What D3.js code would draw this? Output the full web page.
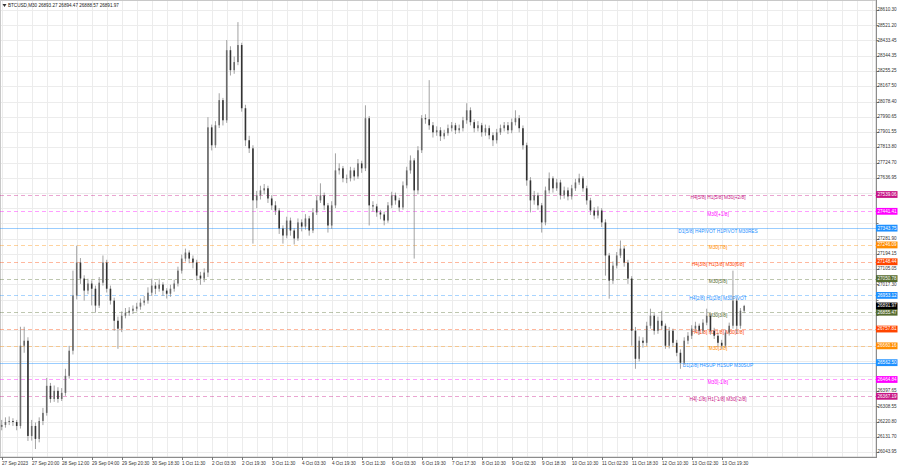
<!DOCTYPE html>
<html><head><meta charset="utf-8">
<script src="https://cdn.jsdelivr.net/npm/d3@7"></script>
<style>body{margin:0;background:#fff}svg{display:block;font-family:"Liberation Sans",Arial,sans-serif}</style>
</head><body><svg id="c" width="900" height="468"></svg>
<script>
// ---- data ----
const title = "BTCUSD,M30  26893.27 26894.47 26888.57 26891.97";
const timeLabels = ["27 Sep 2023","27 Sep 20:00","28 Sep 12:00","29 Sep 04:00","29 Sep 20:30","30 Sep 18:30","1 Oct 11:30","2 Oct 03:30","2 Oct 19:30","3 Oct 11:30","4 Oct 03:30","4 Oct 19:30","5 Oct 11:30","6 Oct 03:30","6 Oct 19:30","7 Oct 17:30","8 Oct 10:30","9 Oct 02:30","9 Oct 18:30","10 Oct 10:30","11 Oct 02:30","11 Oct 18:30","12 Oct 10:30","13 Oct 02:30","13 Oct 19:30"];
const priceTicks = [28610.30,28521.20,28433.45,28344.35,28255.25,28167.50,28078.40,27990.65,27901.55,27813.80,27724.70,27636.95,27547.85,27460.10,27371.00,27281.90,27194.15,27105.05,27017.30,26928.20,26840.45,26751.35,26662.25,26574.50,26486.75,26397.65,26308.55,26220.80,26131.70,26043.95];
const levelPrices = [27539.06,27441.41,27343.75,27246.09,27148.44,27050.78,26953.12,26855.47,26757.81,26660.16,26562.50,26464.84,26367.19];
const levelNames = ["H4[5/8] H1[5/8] M30[+2/8]","M30[+1/8]","D1[5/8] H4PIVOT H1PIVOT M30RES","M30[7/8]","H4[3/8] H1[3/8] M30[6/8]","M30[5/8]","H4[2/8] H1[2/8] M30PIVOT","M30[3/8]","H4[1/8] H1[1/8] M30[2/8]","M30[1/8]","D1[2/8] H4SUP H1SUP M30SUP","M30[-1/8]","H4[-1/8] H1[-1/8] M30[-2/8]"];
const lastPrice = 26891.97;
const firstOpen = 26190;
// 2-hour candles (each = 4 M30 bars)
const closes = [26201,26218,26224,26218,26195,26661,26690,26137,26195,26120,
26224,26271,26428,26352,26399,26352,26387,26486,26632,26952,
27144,27051,26981,27022,26992,26894,27027,27144,26992,26923,
26806,26760,26835,26853,26864,26876,26888,26911,26923,26969,
27010,26992,27016,26981,26963,26992,27022,27097,27167,27202,
27167,27144,27068,27051,27086,27929,27825,27941,28087,27970,
28377,28261,28308,28407,28040,27854,27807,27505,27534,27563,
27575,27516,27476,27446,27342,27301,27388,27330,27284,27377,
27353,27400,27330,27435,27505,27534,27476,27359,27476,27679,
27691,27633,27633,27679,27644,27720,27691,27982,27476,27470,
27435,27423,27388,27476,27534,27505,27464,27592,27679,27737,
27563,27796,27982,27976,27941,27900,27912,27877,27895,27924,
27941,27912,27924,27970,28028,27959,27924,27941,27900,27924,
27883,27854,27900,27924,27941,27912,27959,27982,27924,27825,
27621,27505,27534,27476,27377,27563,27633,27575,27609,27534,
27563,27528,27575,27609,27633,27575,27505,27446,27417,27446,
27377,27185,27039,27126,27185,27225,27144,27051,26748,26585,
26690,26678,26777,26835,26748,26806,26777,26661,26748,26678,
26620,26562,26690,26719,26760,26777,26748,26795,26835,26748,
26719,26678,26661,26737,26777,26923,26777,26864,26891.97];
const highs = [26230,26245,26250,26240,26230,26771,26771,26710,26230,26215,
26245,26300,26474,26445,26430,26420,26415,26527,26660,27097,
27242,27170,27070,27050,27040,27010,27060,27185,27160,27010,
26940,26830,26860,26880,26885,26895,26910,26935,26950,27000,
27050,27030,27050,27030,26995,27015,27045,27120,27190,27225,
27215,27185,27160,27090,27110,27988,27945,27965,28127,28100,
28436,28400,28340,28540,28420,28060,27880,27825,27560,27590,
27600,27590,27535,27500,27460,27360,27410,27405,27345,27400,
27395,27425,27415,27460,27530,27604,27550,27490,27500,27778,
27720,27705,27655,27700,27695,27745,27735,28057,27995,27500,
27485,27450,27440,27495,27555,27550,27520,27615,27700,27766,
27750,27820,28000,28005,28203,27960,27935,27930,27915,27945,
27960,27955,27945,27990,28069,28045,27975,27965,27955,27945,
27940,27900,27920,27945,27960,27960,27980,28028,28000,27940,
27840,27640,27560,27550,27490,27585,27667,27645,27630,27625,
27585,27580,27595,27630,27660,27645,27590,27520,27465,27470,
27460,27395,27200,27150,27205,27272,27240,27160,27065,26770,
26715,26710,26800,26876,26850,26830,26864,26790,26770,26760,
26695,26640,26710,26740,26780,26800,26790,26815,26876,26850,
26765,26735,26695,26755,26795,27097,26935,26880,26898];
const lows = [26170,26185,26200,26195,26170,26180,26620,26108,26110,26061,
26100,26200,26255,26330,26335,26330,26340,26370,26470,26610,
26930,27020,26923,26960,26895,26853,26880,27010,26970,26900,
26748,26643,26740,26820,26835,26845,26860,26870,26895,26905,
26950,26960,26975,26950,26935,26945,26975,27005,27080,27150,
27140,27110,27040,27015,27030,27060,27795,27810,27925,27940,
27955,28230,28240,28290,28020,27820,27780,27254,27460,27510,
27540,27490,27450,27420,27310,27254,27285,27300,27249,27270,
27325,27335,27300,27315,27420,27490,27450,27318,27340,27460,
27655,27610,27605,27615,27620,27630,27665,27675,27359,27440,
27410,27395,27360,27375,27460,27480,27440,27450,27575,27660,
27167,27540,27780,27950,27915,27870,27880,27850,27860,27880,
27905,27890,27895,27905,27950,27940,27900,27905,27875,27880,
27860,27820,27835,27885,27905,27890,27895,27940,27900,27800,
27590,27435,27480,27450,27318,27360,27545,27550,27560,27510,
27515,27505,27510,27560,27595,27555,27480,27420,27395,27400,
27350,27068,26934,27020,27110,27170,27120,27020,26661,26527,
26570,26650,26660,26760,26725,26730,26755,26643,26645,26655,
26600,26527,26550,26670,26700,26740,26725,26730,26780,26725,
26700,26655,26643,26650,26720,26760,26730,26760,26850];

// ---- styles (kept apart from data) ----
const levelColors = ["#c71585","#ff00ff","#1e90ff","#ff8c00","#ff4500","#556b2f","#1e90ff","#556b2f","#ff4500","#ff8c00","#1e90ff","#ff00ff","#c71585"];
const levelSolid = [false,false,true,false,false,false,false,false,false,false,true,false,false];

// ---- layout ----
const plotR = 876, plotB = 457;
const svg = d3.select("#c");
const x = d3.scaleLinear().domain([0, 32]).range([1.7, 31.7]);      // M30 bar index -> px
const y = d3.scaleLinear().domain([26014.8, 28668.5]).range([plotB, 0]);
const crisp = v => Math.round(v) + 0.5;

const candles = closes.map((c, i) => {
  const o = i === 0 ? firstOpen : closes[i - 1];
  return {idx: i * 4, o, c, h: Math.max(highs[i], o, c), l: Math.min(lows[i], o, c)};
});

// grid
const g = svg.append("g");
g.selectAll("line.v").data(d3.range(0, 940, 16)).join("line")
  .attr("x1", d => crisp(x(d))).attr("x2", d => crisp(x(d)))
  .attr("y1", 0).attr("y2", plotB).attr("stroke", "#ececec");
g.selectAll("line.h").data(priceTicks).join("line")
  .attr("x1", 0).attr("x2", plotR).attr("y1", d => crisp(y(d))).attr("y2", d => crisp(y(d)))
  .attr("stroke", "#ececec");

svg.append("rect").attr("x", 0.5).attr("y", 0.5).attr("width", plotR - 0.5).attr("height", plotB - 0.5)
  .attr("fill", "none").attr("stroke", "#c8c8c8");

// level lines
const lv = levelPrices.map((p, i) => ({p, name: levelNames[i], col: levelColors[i], solid: levelSolid[i]}));
svg.append("g").selectAll("line").data(lv).join("line")
  .attr("x1", 0).attr("x2", plotR).attr("y1", d => crisp(y(d.p))).attr("y2", d => crisp(y(d.p)))
  .attr("stroke", d => d.col).attr("stroke-opacity", d => d.solid ? 0.45 : 0.38)
  .attr("stroke-dasharray", d => d.solid ? null : "4,3");

// level texts
svg.append("g").selectAll("text").data(lv).join("text")
  .attr("x", 718).attr("y", d => y(d.p) + 3.2).attr("text-anchor", "middle")
  .attr("dominant-baseline", "middle").attr("font-size", 4.8).attr("fill", d => d.col)
  .text(d => d.name);

// candles
const cg = svg.append("g");
cg.selectAll("line").data(candles).join("line")
  .attr("x1", d => x(d.idx)).attr("x2", d => x(d.idx))
  .attr("y1", d => y(d.h)).attr("y2", d => y(d.l))
  .attr("stroke", "#8a8a8a").attr("stroke-width", 0.8);
cg.selectAll("rect").data(candles).join("rect")
  .attr("x", d => x(d.idx) - 0.8).attr("width", 1.6)
  .attr("y", d => y(Math.max(d.o, d.c)))
  .attr("height", d => Math.max(0.8, Math.abs(y(d.o) - y(d.c))))
  .attr("fill", d => d.c >= d.o ? "#6a6a6a" : "#333");

// axis lines
svg.append("line").attr("x1", plotR + 0.5).attr("x2", plotR + 0.5).attr("y1", 0).attr("y2", plotB + 1).attr("stroke", "#8c8c8c");
svg.append("line").attr("x1", 0).attr("x2", plotR + 1).attr("y1", plotB + 0.5).attr("y2", plotB + 0.5).attr("stroke", "#8c8c8c");

// right axis ticks + labels (labels hidden where a level tag covers them)
const tags = lv.map(d => ({p: d.p, col: d.col})).concat([{p: lastPrice, col: "#000"}]);
const visibleTicks = priceTicks.filter(t => tags.every(tg => Math.abs(y(t) - y(tg.p)) > 5.2));
const ra = svg.append("g");
ra.selectAll("line").data(priceTicks).join("line")
  .attr("x1", plotR).attr("x2", plotR + 2.5).attr("y1", d => crisp(y(d))).attr("y2", d => crisp(y(d))).attr("stroke", "#777");
ra.selectAll("text").data(visibleTicks).join("text")
  .attr("x", 877.5).attr("y", d => y(d)).attr("dominant-baseline", "middle")
  .attr("font-size", 4.6).attr("fill", "#333").text(d => d.toFixed(2));

// bottom axis
const ticksIdx = timeLabels.map((t, i) => ({t, idx: i * 32}));
const ba = svg.append("g");
ba.selectAll("line").data(ticksIdx).join("line")
  .attr("x1", d => crisp(x(d.idx))).attr("x2", d => crisp(x(d.idx)))
  .attr("y1", plotB).attr("y2", plotB + 3).attr("stroke", "#777");
ba.selectAll("text").data(ticksIdx).join("text")
  .attr("x", d => x(d.idx) + 0.3).attr("y", 463.5).attr("dominant-baseline", "middle")
  .attr("font-size", 4.6).attr("fill", "#333").text(d => d.t);

// level price tags
const pl = svg.append("g");
pl.selectAll("rect").data(tags).join("rect")
  .attr("x", 876).attr("y", d => y(d.p) - 3.4).attr("width", 21.5).attr("height", 6.8).attr("fill", d => d.col);
pl.selectAll("text").data(tags).join("text")
  .attr("x", 877.5).attr("y", d => y(d.p) + 0.2).attr("dominant-baseline", "middle")
  .attr("font-size", 4.6).attr("fill", "#fff").text(d => d.p.toFixed(2));

// title
svg.append("path").attr("d", "M2.5,4 L6.5,4 L4.5,7 Z").attr("fill", "#333");
svg.append("text").attr("x", 8).attr("y", 5.8).attr("dominant-baseline", "middle")
  .attr("font-size", 4.6).attr("fill", "#222").text(title);
</script></body></html>
